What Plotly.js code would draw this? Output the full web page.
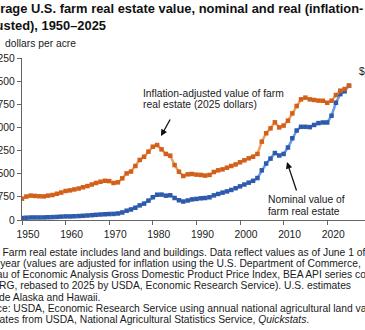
<!DOCTYPE html>
<html>
<head>
<meta charset="utf-8">
<script src="https://cdn.plot.ly/plotly-3.0.1.min.js"></script>
<style>
html,body{margin:0;padding:0;overflow:hidden;background:#fff;}
#chart{width:365px;height:330px;}
</style>
</head>
<body>
<div id="chart"></div>
<script>
const years = [];
for (let y = 1950; y <= 2025; y++) years.push(y);

const nominal = [65,74,82,83,82,84,89,94,100,109,
  116,115,121,128,136,146,157,168,178,186,
  193,197,212,244,301,340,397,474,531,628,
  737,819,823,788,801,713,640,599,632,668,
  683,703,713,736,798,844,887,926,974,1030,
  1090,1150,1210,1270,1360,1610,1830,1990,2170,2090,
  2140,2350,2650,2900,3020,3020,3010,3080,3140,3160,
  3160,3380,3800,4080,4170,4350];

const real = [690,760,790,780,770,765,790,810,850,890,
  940,960,990,1020,1060,1100,1150,1200,1240,1270,
  1260,1200,1220,1350,1510,1570,1750,1945,2050,2215,
  2375,2430,2290,2140,2085,1780,1565,1425,1480,1490,
  1470,1460,1440,1460,1555,1610,1640,1695,1750,1800,
  1870,1935,2000,2050,2140,2540,2810,2970,3165,3000,
  3060,3220,3455,3695,3910,3965,3910,3890,3870,3865,
  3800,3865,4050,4190,4245,4350];

const yTickVals = [0,750,1500,2250,3000,3750,4500,5250];
const yTickText = ['0','750','1,500','2,250','3,000','3,750','4,500','5,250'];
const xTickVals = [1950,1960,1970,1980,1990,2000,2010,2020];
const xTickText = ['1950','1960','1970','1980','1990','2000','2010','2020'];

const titleLines = ['Average U.S. farm real estate value, nominal and real (inflation-', 'adjusted), 1950–2025'];
const yLabel = 'dollars per acre';
const realLabel = ['Inflation-adjusted value of farm', 'real estate (2025 dollars)'];
const nominalLabel = ['Nominal value of', 'farm real estate'];
const endLabel = '$4,350';
const notes = [
  'Note: Farm real estate includes land and buildings. Data reflect values as of June 1 of',
  'each year (values are adjusted for inflation using the U.S. Department of Commerce,',
  'Bureau of Economic Analysis Gross Domestic Product Price Index, BEA API series code:',
  'A191RG, rebased to 2025 by USDA, Economic Research Service). U.S. estimates',
  'exclude Alaska and Hawaii.',
  'Source: USDA, Economic Research Service using annual national agricultural land value',
  'estimates from USDA, National Agricultural Statistics Service, <i>Quickstats</i>.'
];

const W = 365, H = 330, L = 22, R = 0, T = 58, B = 110;
const pw = W - L - R, ph = H - T - B;
const px = x => (x - L) / pw;
const py = y => (H - B - y) / ph;

const FONT = 'Arial, "Liberation Sans", sans-serif';
const TXT = '#1a1a1a';
const fs = 10.3;

const annotations = [];
titleLines.forEach((t,i)=>annotations.push({xref:'paper', yref:'paper', x:px(-25), y:py(8.5+16.5*i),
  xanchor:'left', yanchor:'middle', text:'<b>'+t+'</b>', showarrow:false,
  font:{family:FONT, size:12.9, color:'#111'}}));
annotations.push({xref:'paper', yref:'paper', x:px(3), y:py(43), xanchor:'left', yanchor:'middle',
  text:yLabel, showarrow:false, font:{family:FONT, size:fs, color:TXT}});
realLabel.forEach((t,i)=>annotations.push({xref:'paper', yref:'paper', x:px(141), y:py(93+11.7*i),
  xanchor:'left', yanchor:'middle', text:t, showarrow:false, font:{family:FONT,size:fs,color:TXT}}));
nominalLabel.forEach((t,i)=>annotations.push({xref:'paper', yref:'paper', x:px(266), y:py(199+12.3*i),
  xanchor:'left', yanchor:'middle', text:t, showarrow:false, font:{family:FONT,size:fs,color:TXT}}));
annotations.push({xref:'paper', yref:'paper', x:px(357), y:py(71), xanchor:'left', yanchor:'middle',
  text:endLabel, showarrow:false, font:{family:FONT,size:fs,color:TXT}});
notes.forEach((t,i)=>annotations.push({xref:'paper', yref:'paper', x:px(-27), y:py(252+11.25*i),
  xanchor:'left', yanchor:'middle', text:t, showarrow:false, font:{family:FONT,size:fs,color:TXT}}));
annotations.push({xref:'paper', yref:'paper', x:px(161), y:py(136), ax:10, ay:-18, text:'',
  showarrow:true, arrowhead:2, arrowsize:1, arrowwidth:1.3, arrowcolor:'#111'});
annotations.push({xref:'paper', yref:'paper', x:px(287), y:py(162), ax:10, ay:30, text:'',
  showarrow:true, arrowhead:2, arrowsize:1, arrowwidth:1.3, arrowcolor:'#111'});

const traces = [
  {x:years, y:nominal, type:'scatter', mode:'lines+markers', name:'Nominal',
   line:{color:'#6b9be6', width:2.5}, marker:{symbol:'square', size:4.5, color:'#2e5aac'}},
  {x:years, y:real, type:'scatter', mode:'lines+markers', name:'Real',
   line:{color:'#f2a060', width:2.5}, marker:{symbol:'square', size:4.5, color:'#d0601a'}}
];

const layout = {
  width:W, height:H, margin:{l:L, r:R, t:T, b:B},
  paper_bgcolor:'#fff', plot_bgcolor:'#fff', showlegend:false,
  font:{family:FONT, size:fs, color:TXT},
  xaxis:{range:[1950, 1950 + pw/4.36], tickvals:xTickVals, ticktext:xTickText,
    showgrid:false, zeroline:false, showline:true, linecolor:'#666', linewidth:1.3,
    ticks:'outside', ticklen:4, tickcolor:'#666', ticklabelshift:6,
    tickfont:{family:FONT, size:fs, color:TXT}},
  yaxis:{range:[0,5250], tickvals:yTickVals, ticktext:yTickText,
    showgrid:false, zeroline:false, showline:true, linecolor:'#666', linewidth:1.3,
    ticks:'outside', ticklen:4, tickcolor:'#666',
    tickfont:{family:FONT, size:fs, color:TXT}},
  annotations:annotations
};

Plotly.newPlot('chart', traces, layout, {displayModeBar:false, staticPlot:true});
</script>
</body>
</html>
